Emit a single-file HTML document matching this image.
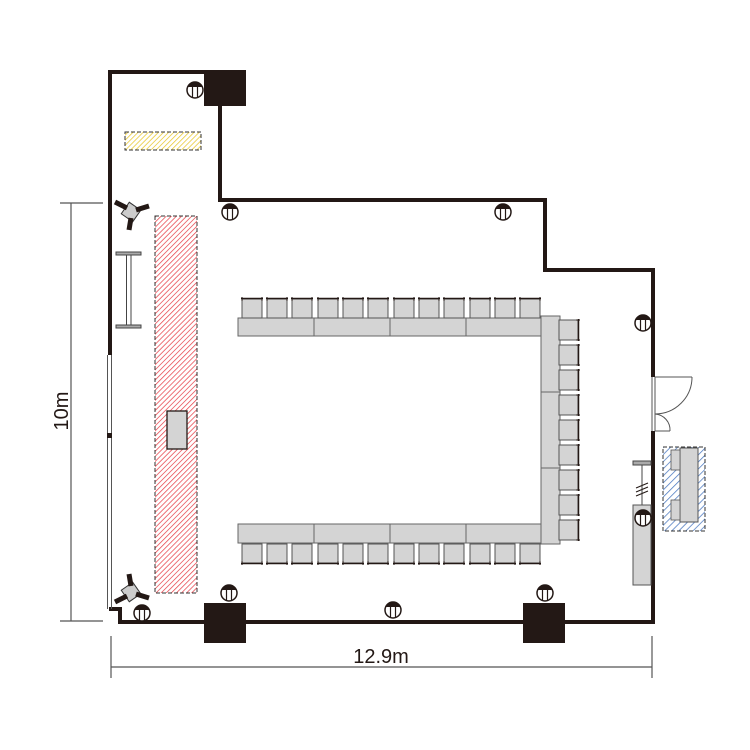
<!DOCTYPE html>
<html><head><meta charset="utf-8"><style>
html,body{margin:0;padding:0;background:#fff;}
svg{display:block;}
</style></head><body>
<svg width="750" height="750" viewBox="0 0 750 750" xmlns="http://www.w3.org/2000/svg">
<defs>
<pattern id="red" patternUnits="userSpaceOnUse" width="3.6" height="3.6" patternTransform="rotate(45)">
<rect width="3.6" height="3.6" fill="#fff"/><line x1="0" y1="0" x2="0" y2="3.6" stroke="#e8474f" stroke-width="1.5"/></pattern>
<pattern id="yel" patternUnits="userSpaceOnUse" width="3.6" height="3.6" patternTransform="rotate(45)">
<rect width="3.6" height="3.6" fill="#fff"/><line x1="0" y1="0" x2="0" y2="3.6" stroke="#e8c830" stroke-width="1.5"/></pattern>
<pattern id="blu" patternUnits="userSpaceOnUse" width="5" height="5" patternTransform="rotate(45)">
<rect width="5" height="5" fill="#fff"/><line x1="0" y1="0" x2="0" y2="5" stroke="#4a78c0" stroke-width="1.5"/></pattern>
<g id="out"><circle r="8" fill="#fff" stroke="#231815" stroke-width="1.5"/><path d="M-7.5,-3 A8,8 0 0 1 7.5,-3 Z" fill="#231815"/><line x1="-2.5" y1="-3" x2="-2.5" y2="7.5" stroke="#231815" stroke-width="1.2"/><line x1="2.5" y1="-3" x2="2.5" y2="7.5" stroke="#231815" stroke-width="1.2"/></g>
<g id="chU"><rect x="0" y="2" width="20" height="19" fill="#d4d4d4" stroke="#555" stroke-width="1"/><line x1="-1" y1="1.5" x2="21" y2="1.5" stroke="#231815" stroke-width="1.5"/><line x1="0" y1="0" x2="0" y2="4" stroke="#231815"/><line x1="20" y1="0" x2="20" y2="4" stroke="#231815"/></g>
<g id="proj"><rect x="-7" y="-7" width="14" height="14" fill="#ccc" stroke="#333" stroke-width="1" transform="rotate(35)"/><line x1="-4" y1="-4" x2="-16" y2="-10" stroke="#231815" stroke-width="5"/><line x1="5" y1="-2" x2="18" y2="-6" stroke="#231815" stroke-width="5"/><line x1="0" y1="6" x2="-2" y2="18" stroke="#231815" stroke-width="5"/></g>
</defs>

<g stroke="#555" stroke-width="1.2" fill="none">
<line x1="71" y1="203" x2="71" y2="621"/><line x1="60" y1="203" x2="103" y2="203"/><line x1="60" y1="621" x2="103" y2="621"/>
<line x1="111" y1="667" x2="652" y2="667"/><line x1="111" y1="636" x2="111" y2="678"/><line x1="652" y1="636" x2="652" y2="678"/>
</g>
<text x="381" y="663" font-family="Liberation Sans, sans-serif" font-size="20" text-anchor="middle" fill="#231815">12.9m</text>
<text transform="translate(68,411) rotate(-90)" font-family="Liberation Sans, sans-serif" font-size="20" text-anchor="middle" fill="#231815">10m</text>

<rect x="125" y="132" width="76" height="18" fill="url(#yel)" stroke="#333" stroke-width="1" stroke-dasharray="4,2"/>
<rect x="155" y="216" width="42" height="377" fill="url(#red)" stroke="#333" stroke-width="1" stroke-dasharray="4,2"/>
<rect x="167" y="411" width="20" height="38" fill="#d4d4d4" stroke="#231815" stroke-width="1.3"/>

<g stroke="#231815" stroke-width="4" fill="none" stroke-linejoin="miter">
<path d="M110,355 L110,72 L246,72"/>
<path d="M220,104 L220,200 L545,200 L545,270 L653,270 L653,377"/>
<path d="M653,431 L653,622 L120,622 L120,609 L109,609"/>
</g>
<line x1="107.5" y1="355" x2="107.5" y2="609" stroke="#555" stroke-width="1"/>
<line x1="111.5" y1="355" x2="111.5" y2="609" stroke="#555" stroke-width="1"/>
<rect x="107" y="433" width="5" height="5" fill="#231815"/>
<rect x="204" y="72" width="42" height="34" fill="#231815"/>
<rect x="204" y="603" width="42" height="40" fill="#231815"/>
<rect x="523" y="603" width="42" height="40" fill="#231815"/>

<g stroke="#555" stroke-width="1" fill="none">
<line x1="652" y1="377" x2="652" y2="431"/><line x1="655" y1="377" x2="655" y2="431"/>
<line x1="655" y1="377" x2="692" y2="377"/>
<path d="M692,377 A37,37 0 0 1 655,414"/>
<path d="M655,414 A16,16 0 0 1 670,431"/>
<line x1="655" y1="431" x2="670" y2="431"/>
</g>

<g stroke="#444" stroke-width="1" fill="#aaa">
<rect x="116" y="252" width="25" height="3"/><rect x="116" y="325" width="25" height="3"/>
<line x1="126.5" y1="255" x2="126.5" y2="325"/><line x1="131" y1="255" x2="131" y2="325"/>
<rect x="633" y="461" width="18" height="4"/>
<line x1="642" y1="465" x2="642" y2="505"/>
</g>
<g stroke="#231815" stroke-width="1"><line x1="636" y1="488" x2="648" y2="483"/><line x1="636" y1="492" x2="648" y2="487"/><line x1="636" y1="496" x2="648" y2="491"/></g>
<rect x="633" y="505" width="18" height="80" fill="#d4d4d4" stroke="#555" stroke-width="1"/>

<rect x="663" y="447" width="42" height="84" fill="url(#blu)" stroke="#333" stroke-width="1" stroke-dasharray="4,2"/>
<rect x="680" y="448" width="18" height="74" fill="#d4d4d4" stroke="#555" stroke-width="1"/>
<rect x="671" y="450" width="9" height="20" fill="#d4d4d4" stroke="#555" stroke-width="0.8"/>
<rect x="671" y="500" width="9" height="20" fill="#d4d4d4" stroke="#555" stroke-width="0.8"/>

<use href="#proj" x="131" y="212"/>
<g transform="translate(131,592) scale(1,-1)"><use href="#proj"/></g>

<g fill="#d4d4d4" stroke="#666" stroke-width="1">
<rect x="238" y="318" width="76" height="18"/><rect x="314" y="318" width="76" height="18"/><rect x="390" y="318" width="76" height="18"/><rect x="466" y="318" width="75" height="18"/>
<rect x="238" y="524" width="76" height="19"/><rect x="314" y="524" width="76" height="19"/><rect x="390" y="524" width="76" height="19"/><rect x="466" y="524" width="75" height="19"/>
<rect x="541" y="316" width="19" height="76"/><rect x="541" y="392" width="19" height="76"/><rect x="541" y="468" width="19" height="76"/>
</g>
<g>
<use href="#chU" x="242" y="297"/><use href="#chU" x="267" y="297"/><use href="#chU" x="292" y="297"/><use href="#chU" x="318" y="297"/><use href="#chU" x="343" y="297"/><use href="#chU" x="368" y="297"/><use href="#chU" x="394" y="297"/><use href="#chU" x="419" y="297"/><use href="#chU" x="444" y="297"/><use href="#chU" x="470" y="297"/><use href="#chU" x="495" y="297"/><use href="#chU" x="520" y="297"/>
</g>
<g transform="translate(0,1105) scale(1,-1)">
<use href="#chU" x="242" y="540"/><use href="#chU" x="267" y="540"/><use href="#chU" x="292" y="540"/><use href="#chU" x="318" y="540"/><use href="#chU" x="343" y="540"/><use href="#chU" x="368" y="540"/><use href="#chU" x="394" y="540"/><use href="#chU" x="419" y="540"/><use href="#chU" x="444" y="540"/><use href="#chU" x="470" y="540"/><use href="#chU" x="495" y="540"/><use href="#chU" x="520" y="540"/>
</g>
<g>
<g transform="translate(580,320) rotate(90)"><use href="#chU"/></g>
<g transform="translate(580,345) rotate(90)"><use href="#chU"/></g>
<g transform="translate(580,370) rotate(90)"><use href="#chU"/></g>
<g transform="translate(580,395) rotate(90)"><use href="#chU"/></g>
<g transform="translate(580,420) rotate(90)"><use href="#chU"/></g>
<g transform="translate(580,445) rotate(90)"><use href="#chU"/></g>
<g transform="translate(580,470) rotate(90)"><use href="#chU"/></g>
<g transform="translate(580,495) rotate(90)"><use href="#chU"/></g>
<g transform="translate(580,520) rotate(90)"><use href="#chU"/></g>
</g>

<use href="#out" x="195" y="90"/>
<use href="#out" x="230" y="212"/>
<use href="#out" x="503" y="212"/>
<use href="#out" x="643" y="323"/>
<use href="#out" x="643" y="518"/>
<use href="#out" x="229" y="593"/>
<use href="#out" x="393" y="610"/>
<use href="#out" x="545" y="593"/>
<use href="#out" x="142" y="613"/>
</svg>
</body></html>
